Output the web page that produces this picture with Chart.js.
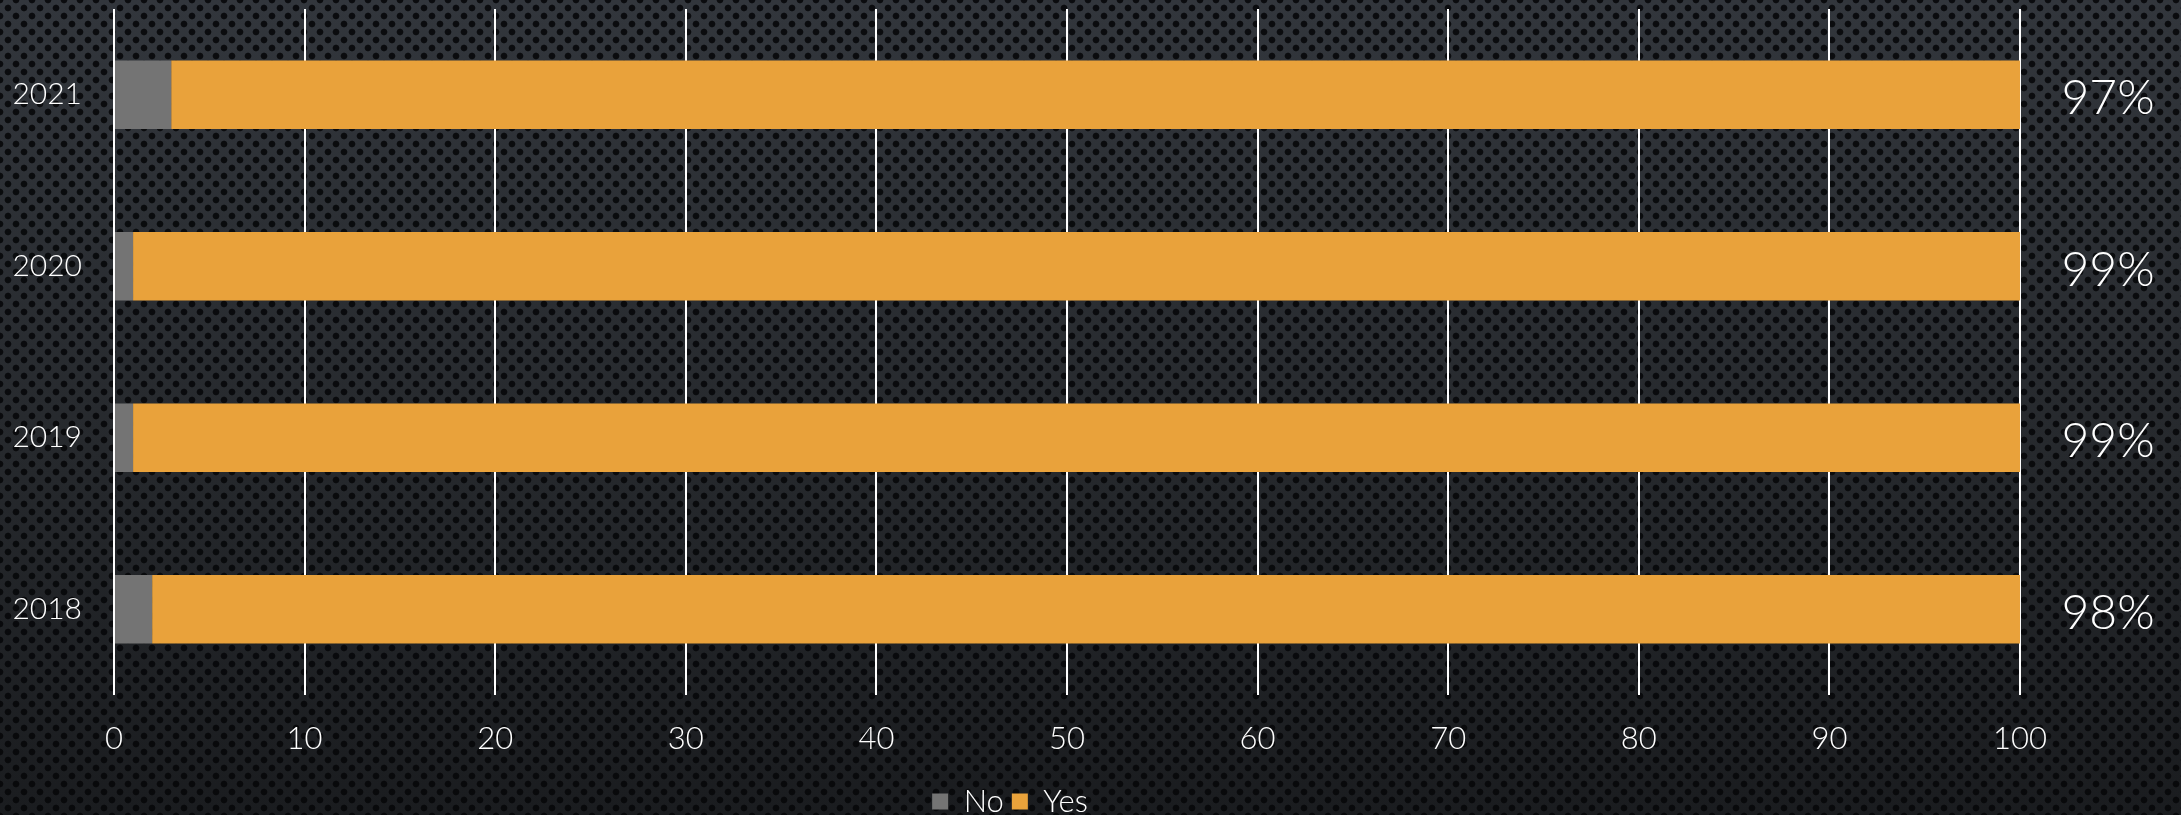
<!DOCTYPE html>
<html>
<head>
<meta charset="utf-8">
<script src="https://cdn.jsdelivr.net/npm/chart.js@4/dist/chart.umd.min.js"></script>
<style>
  html, body {
    margin: 0;
    padding: 0;
    width: 2181px;
    height: 815px;
    overflow: hidden;
  }
  body {
    background:
      radial-gradient(circle, rgba(6,7,9,0.9) 2.8px, transparent 3.8px) 0 0 / 16px 16px,
      radial-gradient(circle, rgba(6,7,9,0.9) 2.8px, transparent 3.8px) 8px 8px / 16px 16px,
      linear-gradient(#32363c, #26292d 55%, #1a1c1f);
  }
  #wrap { position: relative; width: 2181px; height: 815px; }
</style>
</head>
<body>
<div id="wrap"><canvas id="chart"></canvas></div>
<script>
const years = ['2021', '2020', '2019', '2018'];
const noValues = [3, 1, 1, 2];
const yesValues = [97, 99, 99, 98];
const pctLabels = ['97%', '99%', '99%', '98%'];
const xTicks = [0, 10, 20, 30, 40, 50, 60, 70, 80, 90, 100];

const fontFamily = "Lato, 'Open Sans', sans-serif";

const percentLabels = {
  id: 'percentLabels',
  afterDatasetsDraw(chart) {
    const ctx = chart.ctx;
    const meta = chart.getDatasetMeta(1);
    ctx.save();
    ctx.fillStyle = '#ffffff';
    ctx.font = '300 48px ' + fontFamily;
    ctx.textAlign = 'center';
    ctx.textBaseline = 'middle';
    meta.data.forEach((bar, i) => {
      ctx.fillText(pctLabels[i], chart.chartArea.right + 88, bar.y + 4);
    });
    ctx.restore();
  }
};

// nudge the legend a bit lower, closer to the bottom edge
const legendNudge = {
  id: 'legendNudge',
  afterLayout(chart) {
    const lg = chart.legend;
    if (!lg) return;
    lg.top += 12;
    lg.bottom += 12;
    (lg.legendHitBoxes || []).forEach(h => { h.top += 12; });
  }
};

new Chart(document.getElementById('chart'), {
  type: 'bar',
  data: {
    labels: years,
    datasets: [
      { label: 'No', data: noValues, backgroundColor: '#747474', barPercentage: 0.4, categoryPercentage: 1.0 },
      { label: 'Yes', data: yesValues, backgroundColor: '#e9a23b', barPercentage: 0.4, categoryPercentage: 1.0 }
    ]
  },
  plugins: [percentLabels, legendNudge],
  options: {
    indexAxis: 'y',
    responsive: true,
    maintainAspectRatio: false,
    animation: false,
    layout: {
      padding: { top: 9, right: 161, bottom: 0, left: 0 }
    },
    scales: {
      x: {
        stacked: true,
        min: 0,
        max: 100,
        afterBuildTicks: function(scale) {
          scale.ticks = xTicks.map(v => ({ value: v }));
        },
        afterFit: function(scale) {
          scale.height = 71;
        },
        grid: {
          color: '#ffffff',
          lineWidth: 2,
          drawTicks: false
        },
        border: { display: false },
        ticks: {
          color: '#ffffff',
          padding: 25,
          font: { family: fontFamily, size: 31, weight: '300' }
        }
      },
      y: {
        stacked: true,
        afterFit: function(scale) {
          scale.width = 114;
          scale.paddingTop = 0;
          scale.paddingBottom = 0;
        },
        grid: { display: false },
        border: { display: false },
        ticks: {
          color: '#ffffff',
          padding: 24,
          font: { family: fontFamily, size: 30, weight: '300' }
        }
      }
    },
    plugins: {
      legend: {
        position: 'bottom',
        labels: {
          color: '#ffffff',
          boxWidth: 16,
          boxHeight: 16,
          padding: 8,
          font: { family: fontFamily, size: 31, weight: '300' }
        }
      },
      tooltip: { enabled: false }
    }
  }
});
</script>
</body>
</html>
